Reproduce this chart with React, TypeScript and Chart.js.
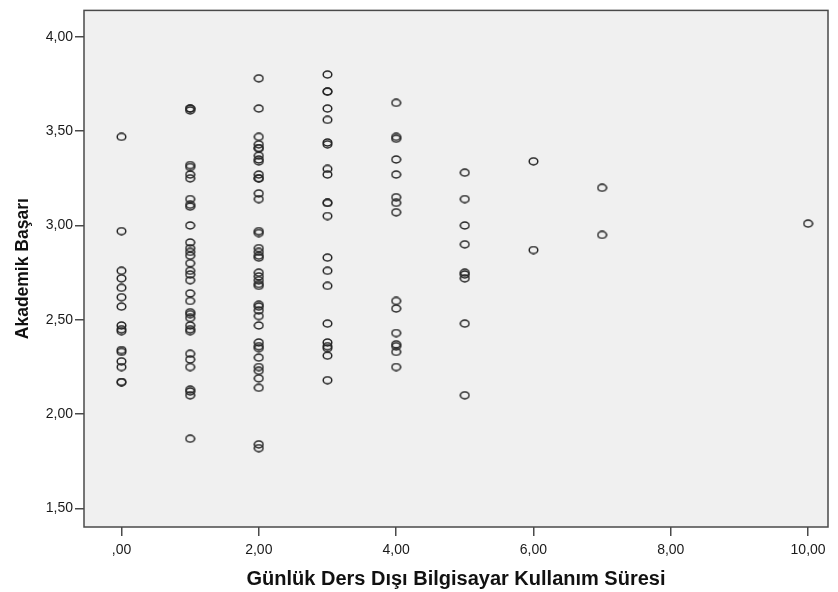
import React, { useEffect, useRef } from "react";
import { Chart, registerables } from "chart.js";

Chart.register(...registerables);

// Usage hours (x) and academic scores (y), one array per x column
const hours0 = [3.47, 2.97, 2.76, 2.72, 2.67, 2.62, 2.57, 2.47, 2.45, 2.44, 2.34, 2.33, 2.28, 2.25, 2.17, 2.17];
const hours1 = [3.62, 3.61, 3.62, 3.32, 3.31, 3.27, 3.25, 3.14, 3.11, 3.10, 3.00, 2.91, 2.88, 2.86, 2.84, 2.80, 2.76, 2.74, 2.71, 2.64, 2.60, 2.54, 2.53, 2.51, 2.47, 2.45, 2.44, 2.32, 2.29, 2.25, 2.13, 2.12, 2.10, 1.87];
const hours2 = [3.78, 3.62, 3.47, 3.43, 3.41, 3.41, 3.37, 3.35, 3.34, 3.27, 3.25, 3.25, 3.17, 3.14, 2.97, 2.96, 2.88, 2.86, 2.84, 2.83, 2.75, 2.73, 2.71, 2.69, 2.68, 2.58, 2.57, 2.55, 2.52, 2.47, 2.38, 2.36, 2.35, 2.30, 2.25, 2.23, 2.19, 2.14, 1.84, 1.82];
const hours3 = [3.80, 3.71, 3.71, 3.62, 3.56, 3.44, 3.43, 3.30, 3.27, 3.12, 3.12, 3.05, 2.83, 2.76, 2.68, 2.48, 2.38, 2.36, 2.35, 2.31, 2.18];
const hours4 = [3.65, 3.47, 3.46, 3.35, 3.27, 3.15, 3.12, 3.07, 2.60, 2.56, 2.43, 2.37, 2.36, 2.33, 2.25];
const hours5 = [3.28, 3.14, 3.00, 2.90, 2.75, 2.74, 2.72, 2.48, 2.10];
const hours6 = [3.34, 2.87];
const hours7 = [3.20, 2.95];
const hours10 = [3.01];

const columnX = [0, 1, 2, 3, 4, 5, 6, 7, 10];
const columnY = [hours0, hours1, hours2, hours3, hours4, hours5, hours6, hours7, hours10];

const xTickValues = [0, 2, 4, 6, 8, 10];
const xTickLabels = [",00", "2,00", "4,00", "6,00", "8,00", "10,00"];
const yTickValues = [1.5, 2, 2.5, 3, 3.5, 4];
const yTickLabels = ["1,50", "2,00", "2,50", "3,00", "3,50", "4,00"];

const xTitle = "Günlük Ders Dışı Bilgisayar Kullanım Süresi";
const yTitle = "Akademik Başarı";

const FONT = "'Liberation Sans', Arial, sans-serif";

export default function App() {
  const ref = useRef<HTMLCanvasElement | null>(null);

  useEffect(() => {
    if (!ref.current) return;
    const marker = document.createElement("canvas");
    marker.width = 11;
    marker.height = 9;
    const mctx = marker.getContext("2d")!;
    mctx.beginPath();
    mctx.ellipse(5.5, 4.5, 4.3, 3.4, 0, 0, Math.PI * 2);
    mctx.strokeStyle = "#262626";
    mctx.lineWidth = 1.5;
    mctx.stroke();

    const points: { x: number; y: number }[] = [];
    columnX.forEach((x, i) => columnY[i].forEach((y) => points.push({ x, y })));

    const framePlugin = {
      id: "frame",
      beforeDatasetsDraw(chart: any) {
        const { ctx, chartArea } = chart;
        const { left, top, right, bottom } = chartArea;
        ctx.save();
        ctx.fillStyle = "#F0F0F0";
        ctx.fillRect(left, top, right - left, bottom - top);
        ctx.strokeStyle = "#4a4a4a";
        ctx.lineWidth = 1.5;
        ctx.strokeRect(left, top, right - left, bottom - top);
        ctx.restore();
      },
    };

    const chart = new Chart(ref.current, {
      type: "scatter",
      data: {
        datasets: [
          {
            data: points,
            pointStyle: marker as any,
            pointRadius: 4,
            borderColor: "#333",
            backgroundColor: "transparent",
          },
        ],
      },
      options: {
        animation: false,
        responsive: false,
        devicePixelRatio: 1,
        layout: { padding: { top: 8, right: 10, left: 0, bottom: 0 } },
        plugins: { legend: { display: false }, tooltip: { enabled: false } },
        scales: {
          x: {
            type: "linear",
            min: -0.546,
            max: 10.29,
            afterBuildTicks: (s: any) => {
              s.ticks = xTickValues.map((v) => ({ value: v }));
            },
            afterFit: (s: any) => {
              s.height = 65;
            },
            ticks: {
              autoSkip: false,
              maxRotation: 0,
              padding: 6,
              color: "#1a1a1a",
              font: { family: FONT, size: 14 },
              callback: (v: any) => {
                const i = xTickValues.indexOf(Number(v));
                return i >= 0 ? xTickLabels[i] : "";
              },
            },
            grid: { drawOnChartArea: false, drawTicks: true, tickLength: 9, color: "#4a4a4a", lineWidth: 1.5 },
            border: { display: false },
            title: {
              display: true,
              text: xTitle,
              color: "#111",
              font: { family: FONT, size: 20, weight: "bold" },
              padding: { top: 0, bottom: 1 },
            },
          },
          y: {
            type: "linear",
            min: 1.402,
            max: 4.14,
            afterBuildTicks: (s: any) => {
              s.ticks = yTickValues.map((v) => ({ value: v }));
            },
            afterFit: (s: any) => {
              s.width = 84;
            },
            ticks: {
              autoSkip: false,
              padding: 2,
              color: "#1a1a1a",
              font: { family: FONT, size: 14 },
              callback: (v: any) => {
                const i = yTickValues.indexOf(Number(v));
                return i >= 0 ? yTickLabels[i] : "";
              },
            },
            grid: { drawOnChartArea: false, drawTicks: true, tickLength: 9, color: "#4a4a4a", lineWidth: 1.5 },
            border: { display: false },
            title: {
              display: true,
              text: yTitle,
              color: "#111",
              font: { family: FONT, size: 17.5, weight: "bold" },
              padding: { top: 13, bottom: 0 },
            },
          },
        },
      },
      plugins: [framePlugin],
    } as any);

    return () => chart.destroy();
  }, []);

  return (
    <div style={{ position: "fixed", left: 0, top: 0, width: 838, height: 592, background: "#fff" }}>
      <canvas ref={ref} width={838} height={592} style={{ width: 838, height: 592, display: "block" }} />
    </div>
  );
}
